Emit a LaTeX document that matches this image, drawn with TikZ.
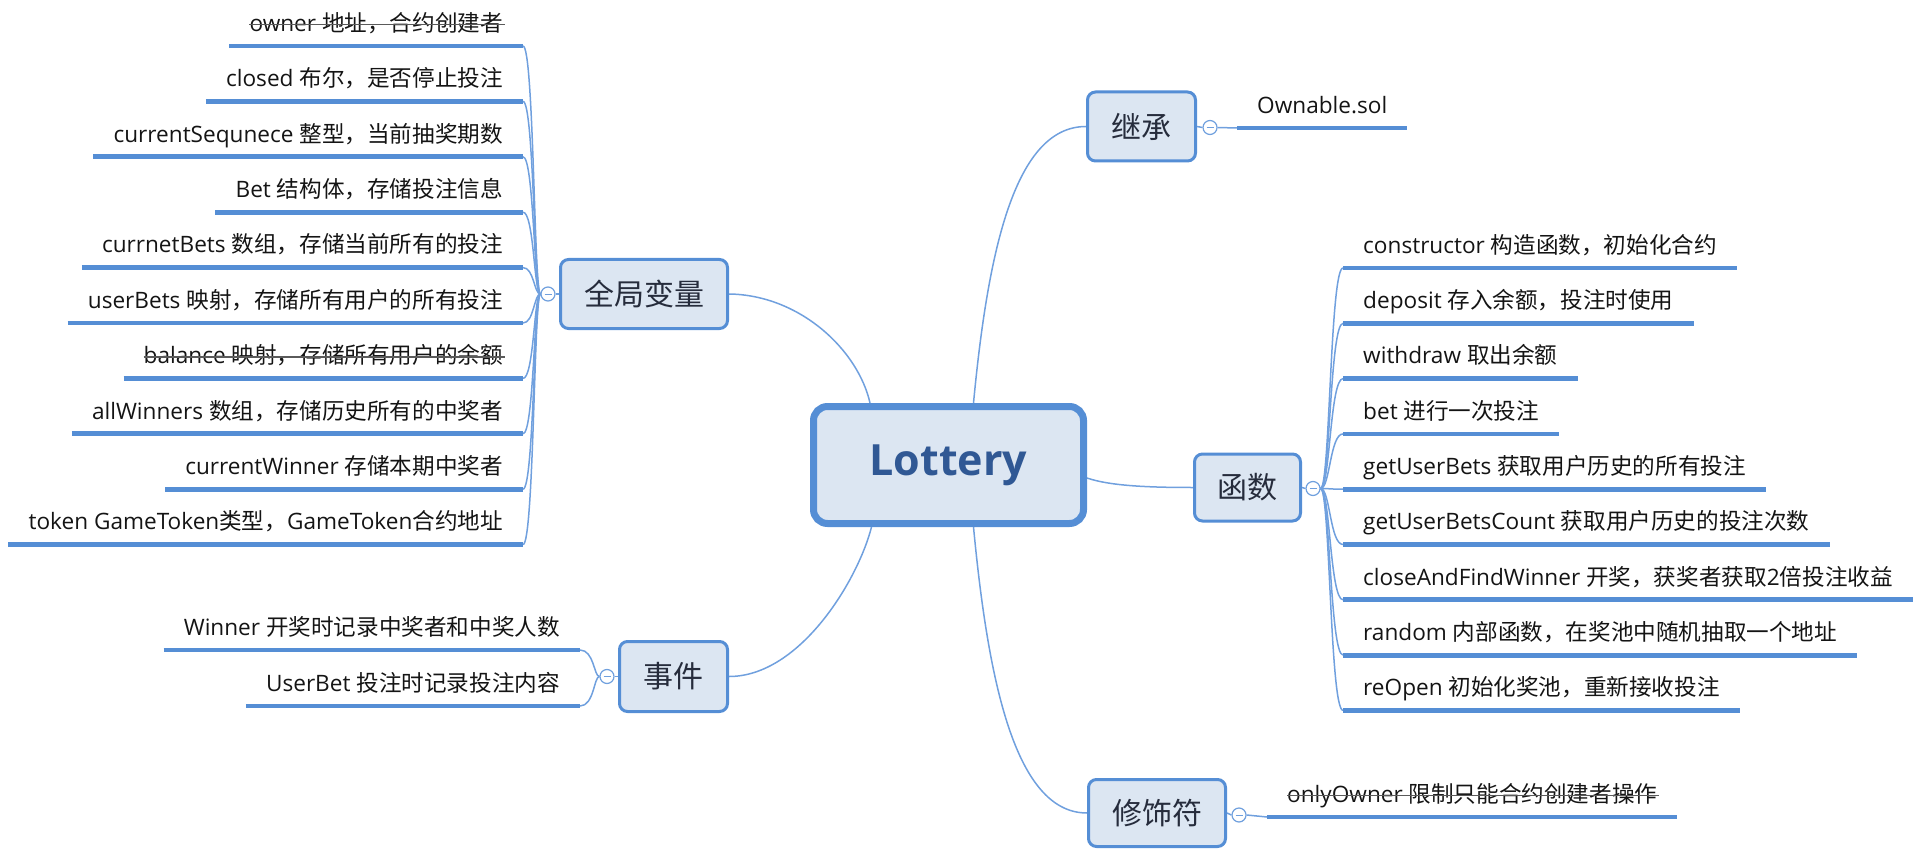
\documentclass[tikz,border=0pt]{standalone}
\usepackage{fontspec}
\setmainfont{Open Sans}
\newfontfamily\zh{Noto Sans CJK SC}
\usetikzlibrary{calc}
\pgfdeclarelayer{bg}
\pgfsetlayers{bg,main}
\definecolor{lineblue}{RGB}{85,142,213}
\definecolor{connblue}{RGB}{112,160,222}
\definecolor{boxfill}{RGB}{220,230,242}
\definecolor{boxtext}{RGB}{38,44,60}
\definecolor{lottext}{RGB}{48,88,148}
\definecolor{leaftext}{RGB}{20,20,20}
\definecolor{strikegray}{RGB}{90,90,90}
\begin{document}
\begin{tikzpicture}[x=1pt,y=-1pt,
  topic/.style={draw=lineblue, line width=3pt, fill=boxfill, rounded corners=8pt,
    font=\zh\fontsize{30}{36}\selectfont, text=boxtext, inner sep=0pt},
  root/.style={draw=lineblue, line width=7pt, fill=boxfill, rounded corners=14pt,
    font=\fontsize{43}{50}\selectfont\bfseries, text=lottext,
    minimum width=270pt, minimum height=117pt, inner sep=0pt},
  leaf/.style={inner xsep=20pt, inner ysep=8.5pt, text height=18pt, text depth=6pt,
    font=\fontsize{22.6}{27}\selectfont, text=leaftext},
  leafL/.style={leaf, anchor=south east},
  leafR/.style={leaf, anchor=south west},
  uline/.style={draw=lineblue, line width=4.8pt},
  conn/.style={draw=connblue, line width=1.5pt},
  coll/.style={circle, draw=connblue, line width=1.2pt, fill=white, minimum size=14pt, inner sep=0pt,
    path picture={\draw[connblue, line width=1pt] ([xshift=-3.5pt]path picture bounding box.center) -- ([xshift=3.5pt]path picture bounding box.center);}},
  strike/.style={draw=strikegray, line width=1.8pt},
]
\useasboundingbox (0,0) rectangle (1916,850);

% central and main topics
\node[root] (lot) at (948.5,465) {Lottery};
\node[topic, minimum width=167pt, minimum height=69pt] (gv) at (644,294) {全局变量};
\node[topic, minimum width=108pt, minimum height=70pt] (ev) at (673.5,676.5) {事件};
\node[topic, minimum width=108pt, minimum height=69pt] (inh) at (1141.5,126.5) {继承};
\node[topic, minimum width=106pt, minimum height=67pt] (fn) at (1247.5,487.5) {函数};
\node[topic, minimum width=137pt, minimum height=67pt] (mod) at (1157,813) {修饰符};

% collapse markers
\node[coll] (cgv) at (548,294) {};
\node[coll] (cev) at (607,676.5) {};
\node[coll] (cinh) at (1210,127.5) {};
\node[coll] (cfn) at (1313,488.5) {};
\node[coll] (cmod) at (1239,815) {};

\coordinate (tg) at (534,0);
\coordinate (te) at (594,0);
\coordinate (tf) at (1330,0);

% left leaves
\node[leafL] (g1) at (523,46) {owner {\zh 地址，合约创建者}};
\node[leafL] (g2) at (523,101.4) {closed {\zh 布尔，是否停止投注}};
\node[leafL] (g3) at (523,156.8) {currentSequnece {\zh 整型，当前抽奖期数}};
\node[leafL] (g4) at (523,212.2) {Bet {\zh 结构体，存储投注信息}};
\node[leafL] (g5) at (523,267.6) {currnetBets {\zh 数组，存储当前所有的投注}};
\node[leafL] (g6) at (523,323) {userBets {\zh 映射，存储所有用户的所有投注}};
\node[leafL] (g7) at (523,378.4) {balance {\zh 映射，存储所有用户的余额}};
\node[leafL] (g8) at (523,433.8) {allWinners {\zh 数组，存储历史所有的中奖者}};
\node[leafL] (g9) at (523,489.2) {currentWinner {\zh 存储本期中奖者}};
\node[leafL] (g10) at (523,544.6) {token GameToken{\zh 类型，}GameToken{\zh 合约地址}};

\node[leafL] (e1) at (580,650) {Winner {\zh 开奖时记录中奖者和中奖人数}};
\node[leafL] (e2) at (580,706) {UserBet {\zh 投注时记录投注内容}};

% right leaves
\node[leafR] (o1) at (1237,128) {Ownable.sol};
\node[leafR] (f1) at (1343,268) {constructor {\zh 构造函数，初始化合约}};
\node[leafR] (f2) at (1343,323.3) {deposit {\zh 存入余额，投注时使用}};
\node[leafR] (f3) at (1343,378.6) {withdraw {\zh 取出余额}};
\node[leafR] (f4) at (1343,433.9) {bet {\zh 进行一次投注}};
\node[leafR] (f5) at (1343,489.2) {getUserBets {\zh 获取用户历史的所有投注}};
\node[leafR] (f6) at (1343,544.5) {getUserBetsCount {\zh 获取用户历史的投注次数}};
\node[leafR] (f7) at (1343,599.8) {closeAndFindWinner {\zh 开奖，获奖者获取}2{\zh 倍投注收益}};
\node[leafR] (f8) at (1343,655.1) {random {\zh 内部函数，在奖池中随机抽取一个地址}};
\node[leafR] (f9) at (1343,710.4) {reOpen {\zh 初始化奖池，重新接收投注}};
\node[leafR] (m1) at (1267,817) {onlyOwner {\zh 限制只能合约创建者操作}};

% underlines
\foreach \n in {g1,g2,g3,g4,g5,g6,g7,g8,g9,g10,e1,e2,o1,f1,f2,f3,f4,f5,f6,f7,f8,f9,m1}
  \draw[uline] (\n.south west) -- (\n.south east);

% strike-through
\foreach \n in {g1,g7,m1}
  \draw[strike] ([xshift=20pt,yshift=21.5pt]\n.south west) -- ([xshift=-18pt,yshift=21.5pt]\n.south east);

\begin{pgfonlayer}{bg}
% main branches
\draw[conn] (gv.east) .. controls (800,295) and (858,350) .. ([xshift=-78.5pt]lot.north);
\draw[conn] ([xshift=25pt]lot.north) .. controls (988,250) and (1015,126.5) .. (inh.west);
\draw[conn] ([yshift=-13pt]lot.east) .. controls (1110,486) and (1150,487.5) .. (fn.west);
\draw[conn] ([xshift=-77pt]lot.south) .. controls (858,580) and (800,676.5) .. (ev.east);
\draw[conn] ([xshift=25pt]lot.south) .. controls (988,680) and (1015,813) .. (mod.west);
% box to marker
\draw[conn] (gv.west) -- (cgv.east);
\draw[conn] (ev.west) -- (cev.east);
\draw[conn] (inh.east) -- (cinh.west);
\draw[conn] (fn.east) -- (cfn.west);
\draw[conn] (mod.east) -- (cmod.west);
% leaf branches
\foreach \n in {g1,g2,g3,g4,g5,g6,g7,g8,g9,g10}
  \draw[conn] (cgv.west) .. controls (tg |- cgv.west) and (tg |- \n.south east) .. (\n.south east);
\foreach \n in {e1,e2}
  \draw[conn] (cev.west) .. controls (te |- cev.west) and (te |- \n.south east) .. (\n.south east);
\foreach \n in {f1,f2,f3,f4,f5,f6,f7,f8,f9}
  \draw[conn] (cfn.east) .. controls (tf |- cfn.east) and (tf |- \n.south west) .. (\n.south west);
\draw[conn] (cinh.east) -- (o1.south west);
\draw[conn] (cmod.east) -- (m1.south west);
\end{pgfonlayer}
\end{tikzpicture}
\end{document}
